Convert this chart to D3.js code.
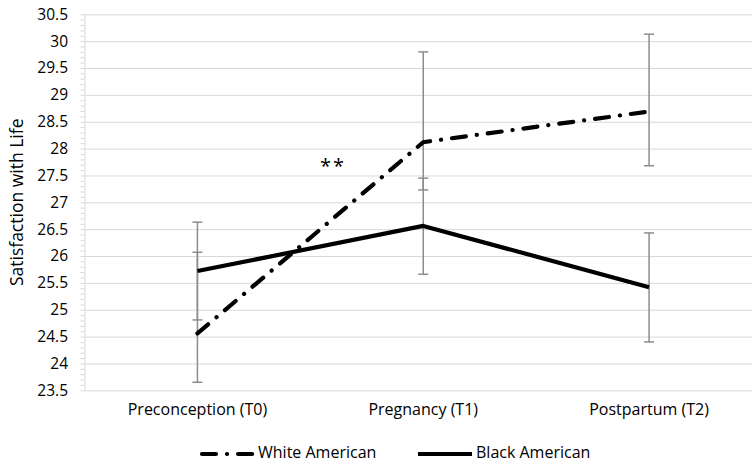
<!DOCTYPE html>
<meta charset="utf-8">
<script src="https://d3js.org/d3.v7.min.js"></script>
<style>
  body { margin: 0; background: #fff; }
  text { font-family: "Open Sans", sans-serif; fill: #000; }
</style>
<div id="chart"></div>
<script>
// categories (time points)
var categories = ["Preconception (T0)", "Pregnancy (T1)", "Postpartum (T2)"];

// White American series + error bar ends
var whiteVals = [24.56, 28.12, 28.69];
var whiteLow  = [23.65, 27.23, 27.68];
var whiteHigh = [26.07, 29.80, 30.13];

// Black American series + error bar ends
var blackVals = [25.72, 26.56, 25.42];
var blackLow  = [24.81, 25.66, 24.40];
var blackHigh = [26.63, 27.45, 26.43];

// y ticks
var yMin = 23.5, yMax = 30.5;
var majorTicks = d3.range(0, 15).map(function(i){ return yMin + i * 0.5; });
var minorTicks = d3.range(0, 71).map(function(i){ return +(yMin + i * 0.1).toFixed(1); });

// significance marker, placed between T0 and T1
var annotation = {text: "**", from: 0, to: 1, frac: 0.6, value: 27.55};

var W = 752, H = 467;
var plotLeft = 84.5, plotRight = 762, plotTop = 14.3, plotBottom = 390.3;

var svg = d3.select("#chart").append("svg")
    .attr("width", W).attr("height", H);

var x = d3.scaleBand().domain(categories).range([plotLeft, plotRight]).padding(0);
var y = d3.scaleLinear().domain([yMin, yMax]).range([plotBottom, plotTop]);
var cx = function(i){ return x(categories[i]) + x.bandwidth() / 2; };

// gridlines
svg.append("g")
    .attr("transform", "translate(" + plotLeft + ",0)")
    .call(d3.axisLeft(y).tickValues(majorTicks).tickSize(-(plotRight - plotLeft)).tickFormat(""))
    .call(function(g){
        g.select(".domain").remove();
        g.selectAll("line").attr("stroke", "#d9d9d9").attr("stroke-width", 1);
    });

// minor ticks
svg.append("g")
    .attr("transform", "translate(" + plotLeft + ",0)")
    .call(d3.axisLeft(y).tickValues(minorTicks).tickSize(4).tickSizeOuter(0).tickFormat(""))
    .call(function(g){
        g.select(".domain").attr("stroke", "#d9d9d9");
        g.selectAll("line").attr("stroke", "#d9d9d9");
    });

// y labels
svg.append("g")
    .attr("transform", "translate(" + plotLeft + ",0)")
    .call(d3.axisLeft(y).tickValues(majorTicks).tickSize(0).tickPadding(16.5)
        .tickFormat(function(d){ return d3.format("")(d); }))
    .call(function(g){
        g.select(".domain").remove();
        g.selectAll("text").style("font-size", "15.5px").attr("fill", "#000");
    });

// x labels
svg.append("g")
    .attr("transform", "translate(0," + plotBottom + ")")
    .call(d3.axisBottom(x).tickSize(0).tickPadding(13))
    .call(function(g){
        g.select(".domain").remove();
        g.selectAll("text").style("font-size", "16px").attr("fill", "#000");
    });

// y axis title
svg.append("text")
    .attr("transform", "translate(18," + ((plotTop + plotBottom) / 2) + ") rotate(-90)")
    .attr("text-anchor", "middle")
    .attr("dominant-baseline", "middle")
    .style("font-size", "17.5px")
    .text("Satisfaction with Life");

// error bars
function errorBars(low, high) {
    var g = svg.append("g").attr("stroke", "#8c8c8c").attr("stroke-width", 1.5);
    categories.forEach(function(c, i){
        g.append("line").attr("x1", cx(i)).attr("x2", cx(i))
            .attr("y1", y(low[i])).attr("y2", y(high[i]));
        [low[i], high[i]].forEach(function(v){
            g.append("line").attr("x1", cx(i) - 5).attr("x2", cx(i) + 5)
                .attr("y1", y(v)).attr("y2", y(v));
        });
    });
}
errorBars(whiteLow, whiteHigh);
errorBars(blackLow, blackHigh);

var line = d3.line()
    .x(function(d, i){ return cx(i); })
    .y(function(d){ return y(d); });

var dashDot = "14,11,0.1,11";

svg.append("path")
    .datum(blackVals)
    .attr("d", line)
    .attr("fill", "none").attr("stroke", "#000").attr("stroke-width", 4.2)
    .attr("stroke-linejoin", "round");

svg.append("path")
    .datum(whiteVals)
    .attr("d", line)
    .attr("fill", "none").attr("stroke", "#000").attr("stroke-width", 4.2)
    .attr("stroke-linecap", "round")
    .attr("stroke-dasharray", dashDot);

// annotation
svg.append("text")
    .attr("x", cx(annotation.from) + (cx(annotation.to) - cx(annotation.from)) * annotation.frac)
    .attr("y", y(annotation.value))
    .attr("text-anchor", "middle")
    .style("font-size", "20px")
    .style("letter-spacing", "2px")
    .text(annotation.text);

// legend
var legendY = 454;
var legend = [
    {name: "White American", x1: 202, x2: 254, dash: dashDot, cap: "round"},
    {name: "Black American", x1: 418, x2: 472, dash: null, cap: "butt"}
];
legend.forEach(function(d){
    svg.append("line")
        .attr("x1", d.x1).attr("x2", d.x2)
        .attr("y1", legendY).attr("y2", legendY)
        .attr("stroke", "#000").attr("stroke-width", 4.2)
        .attr("stroke-linecap", d.cap)
        .attr("stroke-dasharray", d.dash);
    svg.append("text")
        .attr("x", d.x2 + 4).attr("y", legendY)
        .attr("dominant-baseline", "middle")
        .style("font-size", "16px")
        .text(d.name);
});
</script>
